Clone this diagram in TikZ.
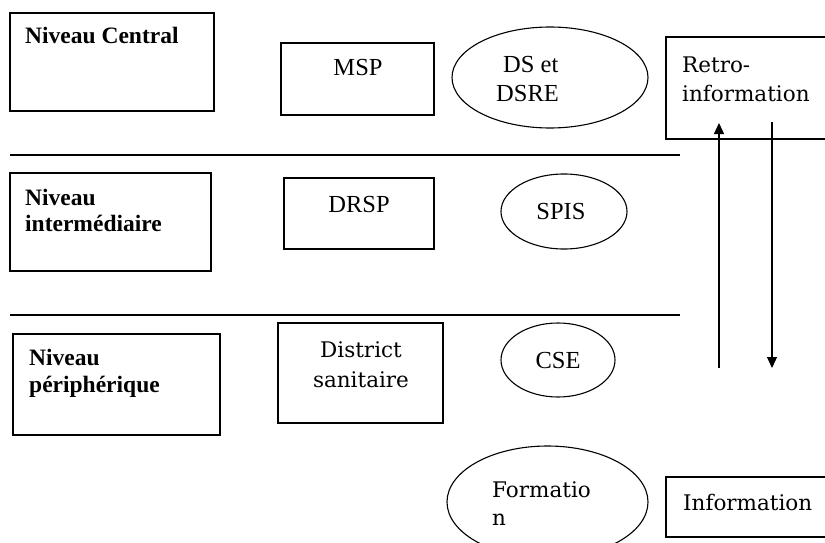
\documentclass[tikz,border=0pt]{standalone}
\usepackage{fontspec}
\setmainfont{Liberation Serif}
\newfontfamily\batfont{DejaVu Serif}
\usetikzlibrary{arrows.meta,shapes.geometric}
\begin{document}
\begin{tikzpicture}[x=1pt,y=-1pt,
  box/.style={draw, line width=1.2pt, inner sep=0pt, rectangle},
  oval/.style={draw, line width=1.1pt, inner sep=0pt, ellipse},
  rule/.style={line width=1.3pt},
  flow/.style={line width=1.2pt, -{Triangle[length=11pt,width=10pt]}},
  lvl/.style={inner sep=0pt, anchor=base west, font=\fontsize{23.5}{27}\selectfont\bfseries},
  tms/.style={inner sep=0pt, anchor=base, font=\fontsize{24.5}{28}\selectfont},
  tmsl/.style={inner sep=0pt, anchor=base west, font=\fontsize{24.5}{28}\selectfont},
  bat/.style={inner sep=0pt, anchor=base west, font=\fontsize{21.5}{29}\batfont},
  batc/.style={inner sep=0pt, anchor=base, font=\fontsize{21.5}{29}\batfont}]
\useasboundingbox (0,0) rectangle (825,543);
\clip (0,0) rectangle (825,543);
% level boxes
\node[box, minimum width=204pt, minimum height=98pt] (nc) at (112,62) {};
\node[box, minimum width=201pt, minimum height=98pt] (ni) at (110.5,222) {};
\node[box, minimum width=207pt, minimum height=101pt] (np) at (116.5,384.5) {};
\node[lvl] (tnc) at (25,44) {Niveau Central};
\node[lvl] (tni1) at (25,205) {Niveau};
\node[lvl] (tni2) at (25,231) {intermédiaire};
\node[lvl] (tnp1) at (29,365) {Niveau};
\node[lvl] (tnp2) at (29,392) {périphérique};
% structure boxes
\node[box, minimum width=153pt, minimum height=72pt] (msp) at (357.5,79) {};
\node[box, minimum width=150pt, minimum height=71pt] (drsp) at (359,213.5) {};
\node[box, minimum width=165pt, minimum height=100pt] (ds) at (360.5,373) {};
\node[tms] (tmsp) at (358,76) {MSP};
\node[tms] (tdrsp) at (359,212) {DRSP};
\node[batc] (tds1) at (361,357) {District};
\node[batc] (tds2) at (361,387) {sanitaire};
% ellipses
\node[oval, minimum width=196pt, minimum height=101pt] (dsre) at (550,77.5) {};
\node[oval, minimum width=126pt, minimum height=75pt] (spis) at (564,211.5) {};
\node[oval, minimum width=114pt, minimum height=74pt] (cse) at (558,360) {};
\node[oval, minimum width=201pt, minimum height=112pt] (form) at (547.5,502) {};
\node[tmsl] (tdsre1) at (503,73) {DS et};
\node[tmsl] (tdsre2) at (496,102) {DSRE};
\node[tms] (tspis) at (561,219) {SPIS};
\node[tms] (tcse) at (558,368) {CSE};
\node[bat] (tform1) at (492,497) {Formatio};
\node[bat] (tform2) at (492,525) {n};
% right boxes
\node[box, minimum width=169pt, minimum height=102pt] (retro) at (750.5,88) {};
\node[box, minimum width=169pt, minimum height=60pt] (info) at (750.5,507) {};
\node[bat] (tretro1) at (682,73) {Retro-};
\node[bat] (tretro2) at (682,102) {information};
\node[bat] (tinfo) at (683,510) {Information};
% separator lines
\coordinate (l1a) at (10,155);
\coordinate (l1b) at (680,155);
\coordinate (l2a) at (10,315);
\coordinate (l2b) at (680,315);
\draw[rule] (l1a) -- (l1b);
\draw[rule] (l2a) -- (l2b);
% arrows
\coordinate (upstart) at (719,368);
\coordinate (upend) at (719,123);
\coordinate (downstart) at (772,122);
\coordinate (downend) at (772,368);
\draw[flow] (upstart) -- (upend);
\draw[flow] (downstart) -- (downend);
\end{tikzpicture}
\end{document}
